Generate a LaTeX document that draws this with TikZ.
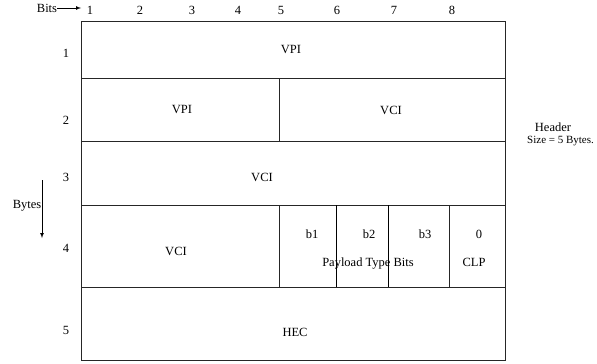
\documentclass[tikz,border=0pt]{standalone}
\usepackage{fontspec}
\setmainfont{Liberation Serif}
\begin{document}
\begin{tikzpicture}[x=1pt,y=-1pt,
  lbl/.style={inner sep=0pt,font=\fontsize{12.5}{12.5}\selectfont},
  grid/.style={line width=0.9pt,draw=black!85},
  arr/.style={line width=0.7pt,-latex}]
\useasboundingbox (0,0) rectangle (597,364);
% frame and rows
\draw[grid] (81,21) rectangle (505,360);
\draw[grid] (81,78) -- (505,78);
\draw[grid] (81,141) -- (505,141);
\draw[grid] (81,205) -- (505,205);
\draw[grid] (81,287) -- (505,287);
\draw[grid] (279,78) -- (279,141);
\draw[grid] (279,205) -- (279,287);
\draw[line width=0.7pt] (336,205) -- (336,287);
\draw[line width=0.7pt] (388,205) -- (388,287);
\draw[grid] (449,205) -- (449,287);
% bits header
\node[lbl] (bits) at (47,8) {Bits};
\coordinate (bitsend) at (81,8);
\draw[arr] (bits.east) -- (bitsend);
\node[lbl] (c1) at (90,10) {1};
\node[lbl] (c2) at (140,10) {2};
\node[lbl] (c3) at (192,10) {3};
\node[lbl] (c4) at (238,10) {4};
\node[lbl] (c5) at (281,10) {5};
\node[lbl] (c6) at (337,10) {6};
\node[lbl] (c7) at (394,10) {7};
\node[lbl] (c8) at (452,10) {8};
% byte numbers
\node[lbl] (r1) at (66,53) {1};
\node[lbl] (r2) at (66,120) {2};
\node[lbl] (r3) at (66,177) {3};
\node[lbl] (r4) at (66,248) {4};
\node[lbl] (r5) at (66,330) {5};
\node[lbl] (bytes) at (27,206) {Bytes};
\coordinate (bytestop) at (42,180);
\coordinate (bytesend) at (42,238);
\draw[arr] (bytestop) -- (bytesend);
% cell texts
\node[lbl] (vpi1) at (291,50) {VPI};
\node[lbl] (vpi2) at (182,110) {VPI};
\node[lbl] (vci2) at (391,110) {VCI};
\node[lbl] (vci3) at (262,177) {VCI};
\node[lbl] (vci4) at (176,251) {VCI};
\node[lbl,anchor=base] (b1) at (312,238) {b1};
\node[lbl,anchor=base] (b2) at (369,238) {b2};
\node[lbl,anchor=base] (b3) at (425,238) {b3};
\node[lbl,anchor=base] (zero) at (479,238) {0};
\node[lbl,anchor=base] (ptb) at (368,266) {Payload Type Bits};
\node[lbl,anchor=base] (clp) at (474,266) {CLP};
\node[lbl] (hec) at (295,332) {HEC};
% header note
\node[lbl,anchor=base] (hdr) at (553,131) {Header};
\node[lbl,anchor=base west,font=\fontsize{11}{11}\selectfont] (size) at (527,143) {Size = 5 Bytes.};
\end{tikzpicture}
\end{document}
